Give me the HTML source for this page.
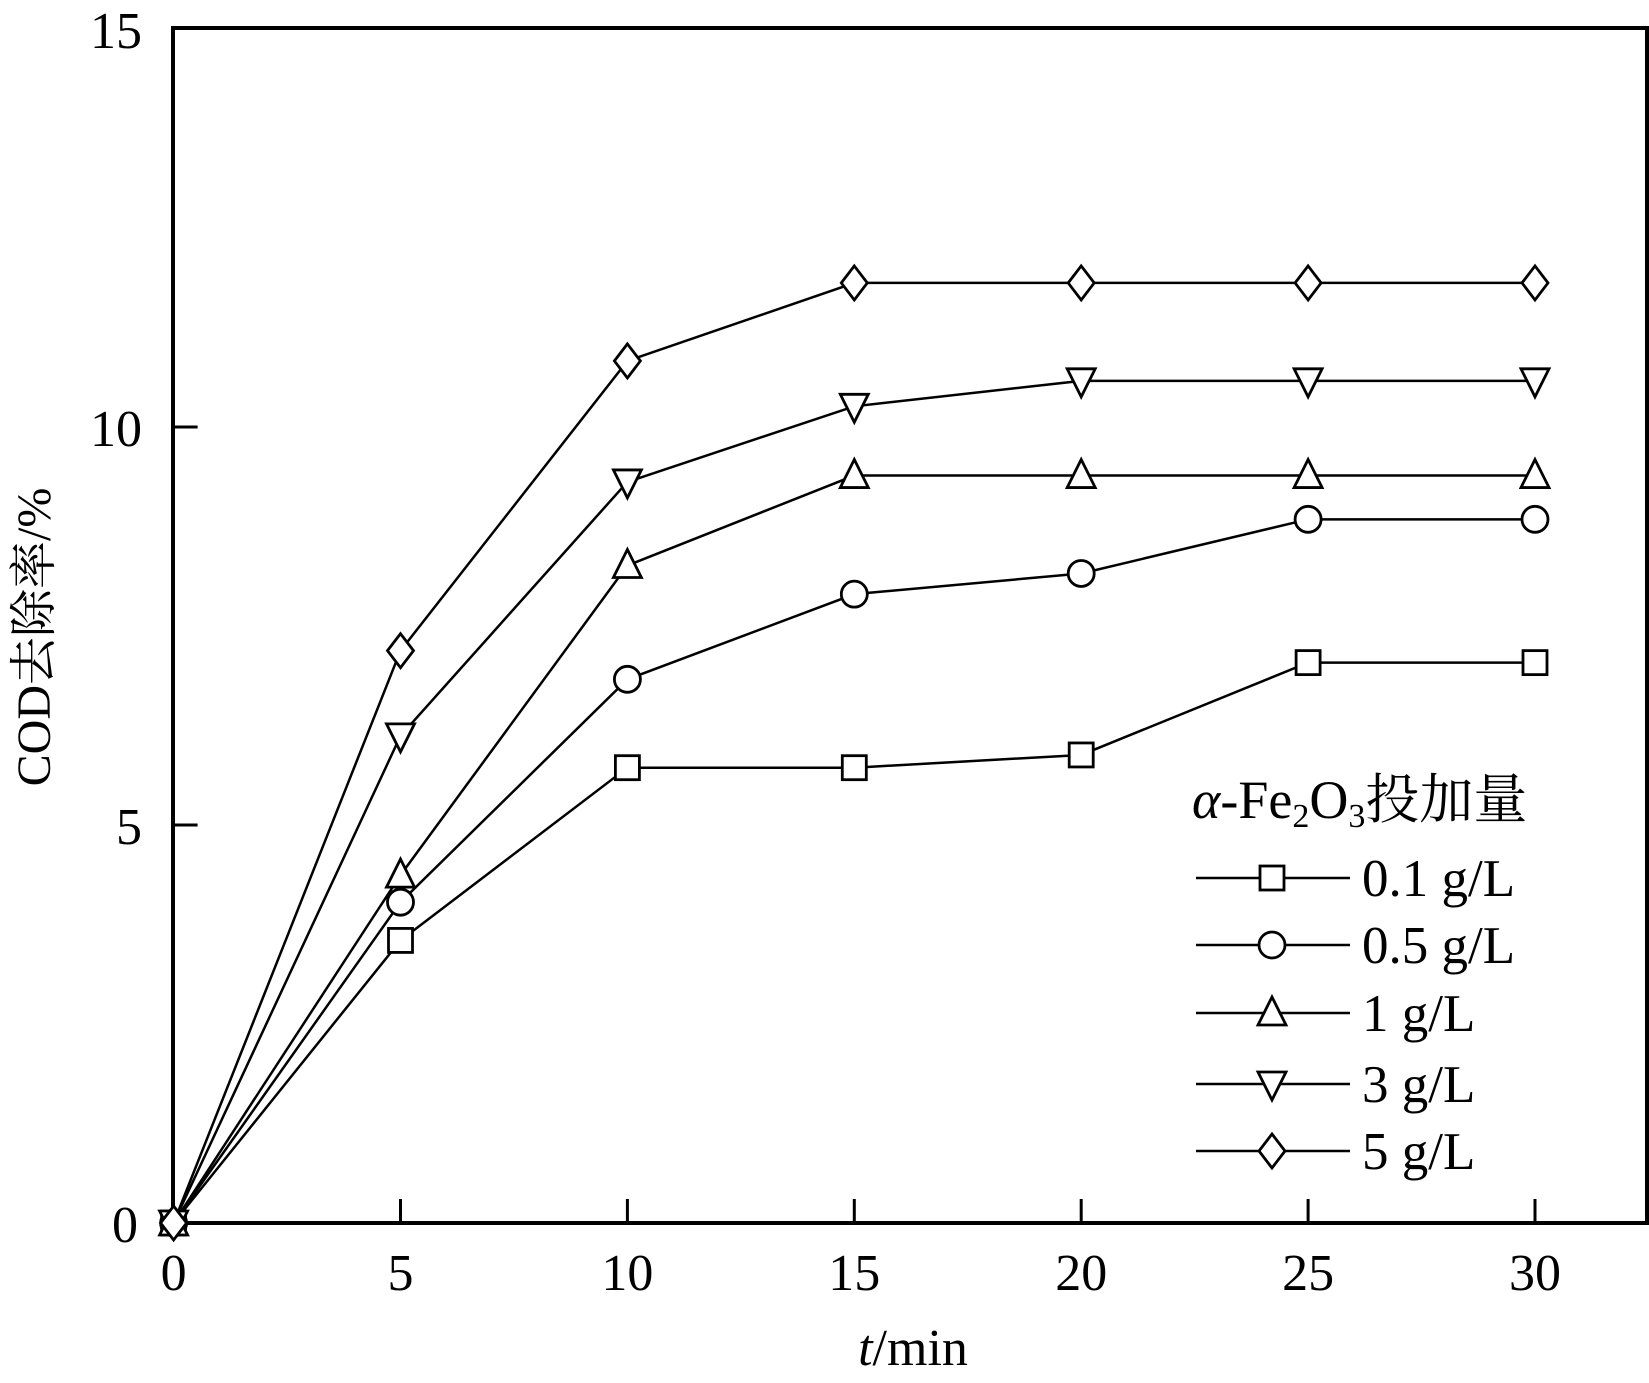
<!DOCTYPE html>
<html><head><meta charset="utf-8"><style>
html,body{margin:0;padding:0;background:#fff;}
svg{display:block;}
text{font-family:"Liberation Serif","Noto Serif CJK SC","Noto Sans CJK SC",serif;fill:#000;}
</style></head><body>
<svg id="chart" width="1649" height="1383" viewBox="0 0 1649 1383" xmlns="http://www.w3.org/2000/svg">
<g id="plot"></g>
</svg>
<script>
const times=[0,5,10,15,20,25,30];
const s01=[0,3.55,5.72,5.72,5.88,7.04,7.04];
const s05=[0,4.03,6.83,7.9,8.16,8.84,8.84];
const s1=[0,4.37,8.26,9.39,9.39,9.39,9.39];
const s3=[0,6.12,9.31,10.26,10.58,10.58,10.58];
const s5=[0,7.19,10.83,11.81,11.81,11.81,11.81];
const seriesLabels=["0.1 g/L","0.5 g/L","1 g/L","3 g/L","5 g/L"];
const xTicks=[0,5,10,15,20,25,30];
const yTicks=[0,5,10,15];

const NS="http://www.w3.org/2000/svg";
const X0=173.6, XS=226.9/5, Y0=1223, YS=398/5;
const xp=v=>X0+v*XS, yp=v=>Y0-v*YS;
const plot=document.getElementById('plot');
function el(t,a,p){const e=document.createElementNS(NS,t);for(const k in a)e.setAttribute(k,a[k]);(p||plot).appendChild(e);return e;}

const frame=el('rect',{x:173,y:28,width:1474,height:1195,fill:'none',stroke:'#000','stroke-width':4});



xTicks.forEach(t=>{
  if(t>0){const l=el('line',{x1:xp(t),x2:xp(t),y1:Y0,y2:Y0-24,stroke:'#000','stroke-width':3});
  
  }
  const tx=el('text',{x:xp(t),y:1290,'font-size':52,'text-anchor':'middle'});
  tx.textContent=t;
  
  
});
yTicks.forEach(t=>{
  if(t>0&&t<15){const l=el('line',{x1:X0,x2:X0+24,y1:yp(t),y2:yp(t),stroke:'#000','stroke-width':3});
  
  }
  const tx=el('text',{x:t===0?138:142,y:yp(t)+19,'font-size':52,'text-anchor':'end'});
  tx.textContent=t;
  
  
});

const xt=el('text',{x:913,y:1365,'font-size':52,'text-anchor':'middle'});
xt.innerHTML='<tspan font-style="italic">t</tspan>/min';


const yt=el('text',{x:0,y:0,'font-size':48,'text-anchor':'middle',transform:'translate(50,637) rotate(-90)'});
yt.textContent='COD去除率/%';



function marker(kind,x,y,g){
  const r=13;let e;
  const st={fill:'#fff',stroke:'#000','stroke-width':2.8};
  if(kind==='sq') e=el('rect',Object.assign({x:x-r+1,y:y-r+1,width:2*r-2,height:2*r-2},st),g);
  else if(kind==='ci') e=el('circle',Object.assign({cx:x,cy:y,r:r},st),g);
  else if(kind==='tu') e=el('polygon',Object.assign({points:`${x},${y-r-3} ${x-r-1},${y+r-1} ${x+r+1},${y+r-1}`},st),g);
  else if(kind==='td') e=el('polygon',Object.assign({points:`${x},${y+r+3} ${x-r-1},${y-r+1} ${x+r+1},${y-r+1}`},st),g);
  else e=el('polygon',Object.assign({points:`${x},${y-r-4} ${x+r},${y} ${x},${y+r+4} ${x-r},${y}`},st),g);
  
  
}
const all=[s01,s05,s1,s3,s5];
const kinds=['sq','ci','tu','td','di'];
const names=['series-0-1','series-0-5','series-1','series-3','series-5'];
all.forEach((s,i)=>{
  const g=el('g',{});
  
  
  const pl=el('polyline',{points:s.map((v,j)=>xp(times[j])+','+yp(v)).join(' '),fill:'none',stroke:'#000','stroke-width':2.5},g);
  
  
  s.forEach((v,j)=>marker(kinds[i],xp(times[j]),yp(v),g));
});

const lg=el('g',{});


const lt=el('text',{x:1192,y:818,'font-size':54},lg);
lt.innerHTML='<tspan font-style="italic">α</tspan>-Fe<tspan font-size="34" dy="9">2</tspan><tspan dy="-9">O</tspan><tspan font-size="34" dy="9">3</tspan><tspan dy="-9">投加量</tspan>';


const ly=[878,945,1013,1084,1151];
seriesLabels.forEach((lab,i)=>{
  const g=el('g',{},lg);
  
  
  el('line',{x1:1196,x2:1350,y1:ly[i],y2:ly[i],stroke:'#000','stroke-width':2.5},g);
  marker(kinds[i],1272,ly[i],g);
  const t=el('text',{x:1362,y:ly[i]+18,'font-size':53},g);
  t.textContent=lab;
  
  
});
</script>
</body></html>
